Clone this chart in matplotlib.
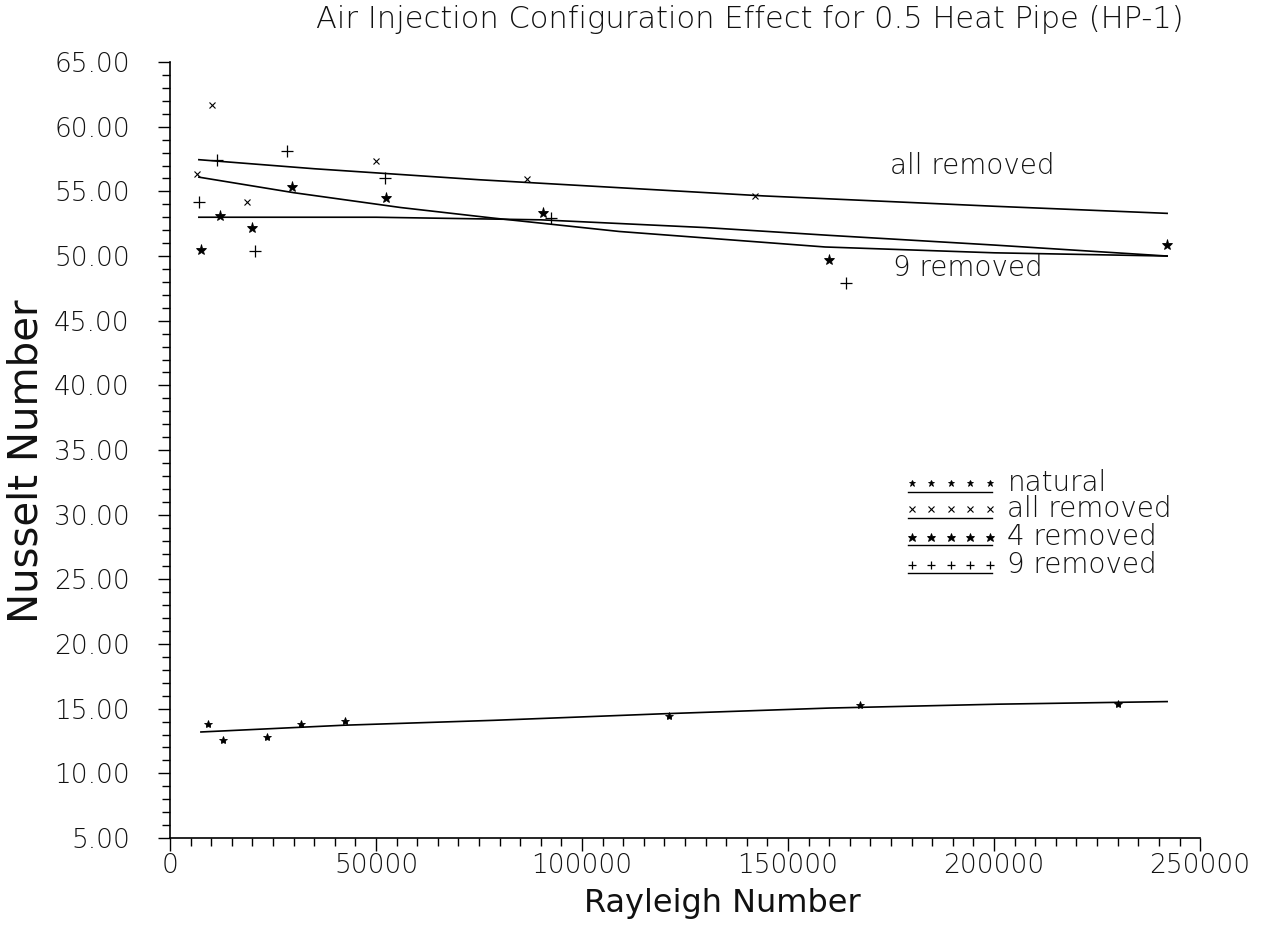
import matplotlib
matplotlib.use("Agg")
import matplotlib.pyplot as plt
from matplotlib.ticker import MultipleLocator, FormatStrFormatter

plt.rcParams['font.family'] = ['DejaVu Sans']
plt.rcParams['font.weight'] = 'light'

# ---- data ----
natural_x = [9100, 12900, 23600, 31700, 42500, 121000, 167500, 230000]
natural_y = [13.85, 12.6, 12.85, 13.85, 14.05, 14.4, 15.3, 15.4]

all_x = [6600, 10100, 18800, 50000, 86600, 142000]
all_y = [56.35, 61.65, 54.2, 57.35, 55.95, 54.65]

four_x = [7400, 12100, 19800, 29500, 52400, 90600, 160000, 242000]
four_y = [50.45, 53.1, 52.2, 55.3, 54.5, 53.3, 49.7, 50.85]

nine_x = [7000, 11300, 20600, 28300, 52200, 92400, 164000]
nine_y = [54.2, 57.4, 50.4, 58.1, 56.0, 52.95, 47.9]

# fitted curves as drawn in the reference
natural_fit_x = [7500, 42000, 78500, 119000, 160000, 201000, 242000]
natural_fit_y = [13.2, 13.72, 14.1, 14.6, 15.05, 15.35, 15.55]

all_fit_x = [7000, 35000, 75000, 144000, 200000, 242000]
all_fit_y = [57.45, 56.75, 55.9, 54.65, 53.85, 53.3]

four_fit_x = [7000, 50000, 90000, 130000, 160000, 200000, 242000]
four_fit_y = [53.0, 53.0, 52.8, 52.2, 51.6, 50.85, 50.0]

nine_fit_x = [7000, 30000, 56000, 78000, 109000, 159000, 200000, 242000]
nine_fit_y = [56.1, 54.9, 53.75, 52.95, 51.9, 50.7, 50.25, 50.0]

x_ticks = [0, 50000, 100000, 150000, 200000, 250000]
x_ticklabels = ["0", "50000", "100000", "150000", "200000", "250000"]
y_ticks = [5, 10, 15, 20, 25, 30, 35, 40, 45, 50, 55, 60, 65]

series_names = ["natural", "all removed", "4 removed", "9 removed"]

title = "Air Injection Configuration Effect for 0.5 Heat Pipe (HP-1)"
xlabel = "Rayleigh Number"
ylabel = "Nusselt Number"

# ---- figure ----
fig = plt.figure(figsize=(12.67, 9.26), dpi=100)
ax = fig.add_axes([0.1342, 0.095, 0.813, 0.838])

lw = 1.2
c = "black"
tc = "#111111"

ax.plot(natural_fit_x, natural_fit_y, color=c, lw=lw)
ax.plot(all_fit_x, all_fit_y, color=c, lw=lw)
ax.plot(four_fit_x, four_fit_y, color=c, lw=lw)
ax.plot(nine_fit_x, nine_fit_y, color=c, lw=lw)

styles = [
    dict(marker="*", ms=6, mew=0.6),
    dict(marker="x", ms=5, mew=0.8),
    dict(marker="*", ms=8, mew=0.6),
    dict(marker="+", ms=8, mew=0.9),
]
datasets = [(natural_x, natural_y), (all_x, all_y), (four_x, four_y), (nine_x, nine_y)]
for (xs, ys), st in zip(datasets, styles):
    ax.plot(xs, ys, ls="none", color=c, mec=c, mfc=c, **st)

ax.set_xlim(0, 250000)
ax.set_ylim(5, 65)
ax.set_xticks(x_ticks)
ax.set_xticklabels(x_ticklabels)
ax.set_yticks(y_ticks)
ax.yaxis.set_major_formatter(FormatStrFormatter("%.2f"))
ax.xaxis.set_minor_locator(MultipleLocator(5000))
ax.yaxis.set_minor_locator(MultipleLocator(1))

for s in ["top", "right"]:
    ax.spines[s].set_visible(False)
for s in ["left", "bottom"]:
    ax.spines[s].set_linewidth(1.2)

ax.tick_params(axis="both", which="major", direction="out", length=9, width=1.0,
               labelsize=19, colors="black", labelcolor=tc)
ax.tick_params(axis="both", which="minor", direction="out", length=6, width=1.0)
ax.tick_params(axis="y", which="major", pad=20)
ax.tick_params(axis="x", which="major", pad=2)

ax.set_xlabel(xlabel, fontsize=23, color=tc)
ax.xaxis.set_label_coords(0.536, -0.064)
ax.set_ylabel(ylabel, fontsize=29, color=tc)
ax.yaxis.set_label_coords(-0.12, 0.485)

fig.text(0.592, 0.979, title, ha="center", va="center", fontsize=22, color=tc)

# curve annotations
ax.text(174700, 56.96, "all removed", fontsize=20, va="center", ha="left", color=tc)
ax.text(175500, 49.07, "9 removed", fontsize=20, va="center", ha="left", color=tc)

# legend drawn manually (axes fraction)
row_y = [0.457, 0.424, 0.388, 0.352]
mk_x = [0.720, 0.739, 0.758, 0.777, 0.796]
for i, (name, st) in enumerate(zip(series_names, styles)):
    y = row_y[i]
    st2 = dict(st)
    st2["ms"] = st["ms"] * 0.8
    ax.plot(mk_x, [y] * len(mk_x), ls="none", color=c, mec=c, mfc=c,
            transform=ax.transAxes, clip_on=False, **st2)
    ax.plot([0.716, 0.798], [y - 0.011, y - 0.011], color=c, lw=1.0,
            transform=ax.transAxes, clip_on=False)
    ax.text(0.813, y, name, fontsize=20, va="center", ha="left", color=tc,
            transform=ax.transAxes)

fig.savefig("out.png", dpi=100, facecolor="white")
